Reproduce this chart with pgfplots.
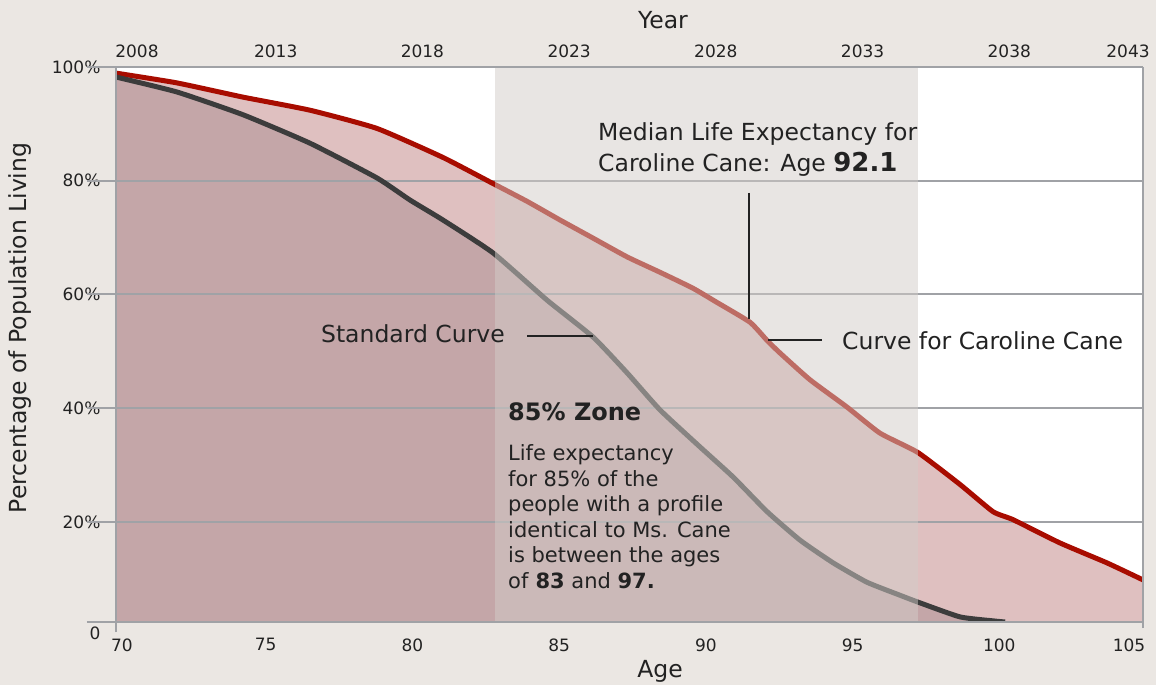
\documentclass[border=0pt]{standalone}
\usepackage{pgfplots}
\pgfplotsset{compat=1.18}
\usepackage{fontspec}
\setmainfont{DejaVu Sans}
\definecolor{bg}{RGB}{235,231,227}
\definecolor{gridc}{RGB}{160,162,166}
\definecolor{redline}{RGB}{168,12,0}
\definecolor{grayline}{RGB}{60,60,60}
\definecolor{redfill}{RGB}{223,192,192}
\definecolor{stdfill}{RGB}{196,166,168}
\definecolor{zonec}{RGB}{210,205,200}
\definecolor{txt}{RGB}{34,34,34}
\newcommand{\tickfont}{\fontsize{17}{20}\selectfont}
\newcommand{\annfont}{\fontsize{23.5}{28}\selectfont}
\newcommand{\bodyfont}{\fontsize{21}{25}\selectfont}
\pgfplotstableread{
age pct
70.00 98.9
70.03 98.9
72.08 97.2
74.33 94.7
76.61 92.4
78.89 89.2
81.14 84.1
82.85 79.5
84.00 76.4
85.13 73.1
86.26 69.9
87.42 66.6
88.54 63.9
89.66 61.1
90.48 58.6
91.61 55.1
92.19 51.9
92.63 49.7
93.65 45.0
94.91 40.2
96.04 35.6
97.33 32.2
98.76 26.6
99.89 21.8
100.57 20.4
102.17 16.3
103.77 12.8
105.00 9.8
}\caroline
\pgfplotstableread{
age pct
70.00 98.2
70.03 98.2
72.08 95.6
74.33 91.6
76.61 86.6
78.89 80.5
80.02 76.6
81.14 73.1
82.85 67.3
84.69 59.0
86.26 52.5
87.42 46.2
88.54 39.7
89.90 33.2
91.03 27.9
92.19 21.8
93.31 16.8
94.44 12.8
95.59 9.4
96.72 7.1
97.33 5.9
98.76 3.3
99.89 2.6
100.30 2.4
}\standard
\begin{document}
\begin{tikzpicture}
\useasboundingbox (-116pt,-63pt) rectangle (1040pt,622pt);
\fill[bg] (-116pt,-63pt) rectangle (1040pt,622pt);
\begin{axis}[
  at={(0pt,0pt)}, anchor=south west,
  scale only axis, width=1027pt, height=555pt,
  xmin=70, xmax=105, ymin=2.4, ymax=100,
  axis background/.style={fill=white},
  axis line style={draw=none},
  major tick length=0pt,
  xtick={70,75,...,105},
  xticklabels={\hspace*{6pt}70,75,80,85,90,95,100,105\hspace*{34pt}},
  xticklabel style={font=\tickfont, text=txt, yshift=-13pt, xshift=3pt},
  ytick={20,40,60,80,100},
  yticklabels={20\%,40\%,60\%,80\%,100\%},
  extra y ticks={2.4}, extra y tick labels={0},
  extra y tick style={yticklabel style={yshift=-11pt}},
  yticklabel style={font=\tickfont, text=txt, xshift=-12pt},
  clip mode=individual,
]
% Caroline Cane curve fill
\addplot[draw=none, fill=redfill, smooth, tension=0.3] table[x=age, y=pct] {\caroline} \closedcycle;
% Standard curve fill
\addplot[draw=none, fill=stdfill, smooth, tension=0.3] table[x=age, y=pct] {\standard} \closedcycle;
% grid lines
\draw[gridc, line width=2pt] ([xshift=-29pt]axis cs:70,20) -- (axis cs:105,20);
\draw[gridc, line width=2pt] ([xshift=-29pt]axis cs:70,40) -- (axis cs:105,40);
\draw[gridc, line width=2pt] ([xshift=-29pt]axis cs:70,60) -- (axis cs:105,60);
\draw[gridc, line width=2pt] ([xshift=-29pt]axis cs:70,80) -- (axis cs:105,80);
% curves
\addplot[redline, line width=5pt, line join=round, smooth, tension=0.3] table[x=age, y=pct] {\caroline};
\addplot[grayline, line width=5pt, line join=round, smooth, tension=0.3] table[x=age, y=pct] {\standard};
% 85% zone overlay
\fill[zonec, opacity=0.5] (axis cs:82.92,2.4) rectangle (axis cs:97.33,100);
% frame
\draw[gridc, line width=2pt] ([xshift=-29pt]axis cs:70,100) -- (axis cs:105,100);
\draw[gridc, line width=2pt] ([xshift=-29pt]axis cs:70,2.4) -- (axis cs:105,2.4);
\draw[gridc, line width=2pt] ([yshift=-10pt]axis cs:70,2.4) -- (axis cs:70,100);
\draw[gridc, line width=2pt] ([yshift=-6pt]axis cs:105,2.4) -- (axis cs:105,100);
\end{axis}
% top year axis
\begin{axis}[
  at={(0pt,0pt)}, anchor=south west,
  scale only axis, width=1027pt, height=555pt,
  xmin=70, xmax=105, ymin=2.4, ymax=100,
  axis line style={draw=none},
  major tick length=0pt,
  xtick={70,75,...,105},
  xticklabel pos=upper,
  xticklabels={\hspace*{16pt}2008,2013,2018,2023,2028,2033,2038,2043\hspace*{56pt}},
  xticklabel style={font=\tickfont, text=txt, yshift=5.3pt, xshift=13pt},
  ytick=\empty,
]
\end{axis}
% axis titles
\node[font=\annfont, text=txt, anchor=base] at (547pt,593.5pt) {Year};
\node[font=\annfont, text=txt, anchor=base] at (544pt,-56pt) {Age};
\node[font=\annfont, text=txt, rotate=90, inner sep=0pt] at (-96pt,294pt) {Percentage of Population Living};
% annotations
\draw[txt, line width=2.5pt] (633pt,429pt) -- (633pt,303pt);
\draw[txt, line width=2.5pt] (411pt,286pt) -- (477pt,286pt);
\draw[txt, line width=2.5pt] (652pt,282pt) -- (706pt,282pt);
\node[font=\annfont, text=txt, anchor=east, inner sep=0pt] at (389pt,288pt) {Standard Curve};
\node[font=\annfont, text=txt, anchor=west, inner sep=0pt] at (726pt,281pt) {Curve for Caroline Cane};
\node[font=\annfont, text=txt, anchor=base west, inner sep=0pt] at (482pt,481.5pt) {Median Life Expectancy for};
\node[font=\annfont, text=txt, anchor=base west, inner sep=0pt] at (482pt,450.5pt) {Caroline Cane: Age {\fontsize{26}{30}\selectfont\bfseries 92.1}};
\node[font=\fontsize{24}{28}\selectfont\bfseries, text=txt, anchor=base west, inner sep=0pt] at (392pt,201.2pt) {85\% Zone};
\node[font=\bodyfont, text=txt, anchor=base west, inner sep=0pt] at (392pt,161pt) {Life expectancy};
\node[font=\bodyfont, text=txt, anchor=base west, inner sep=0pt] at (392pt,135.5pt) {for 85\% of the};
\node[font=\bodyfont, text=txt, anchor=base west, inner sep=0pt] at (392pt,110pt) {people with a profile};
\node[font=\bodyfont, text=txt, anchor=base west, inner sep=0pt] at (392pt,84.5pt) {identical to Ms. Cane};
\node[font=\bodyfont, text=txt, anchor=base west, inner sep=0pt] at (392pt,59pt) {is between the ages};
\node[font=\bodyfont, text=txt, anchor=base west, inner sep=0pt] at (392pt,33.5pt) {of \textbf{83} and \textbf{97.}};
\end{tikzpicture}
\end{document}
